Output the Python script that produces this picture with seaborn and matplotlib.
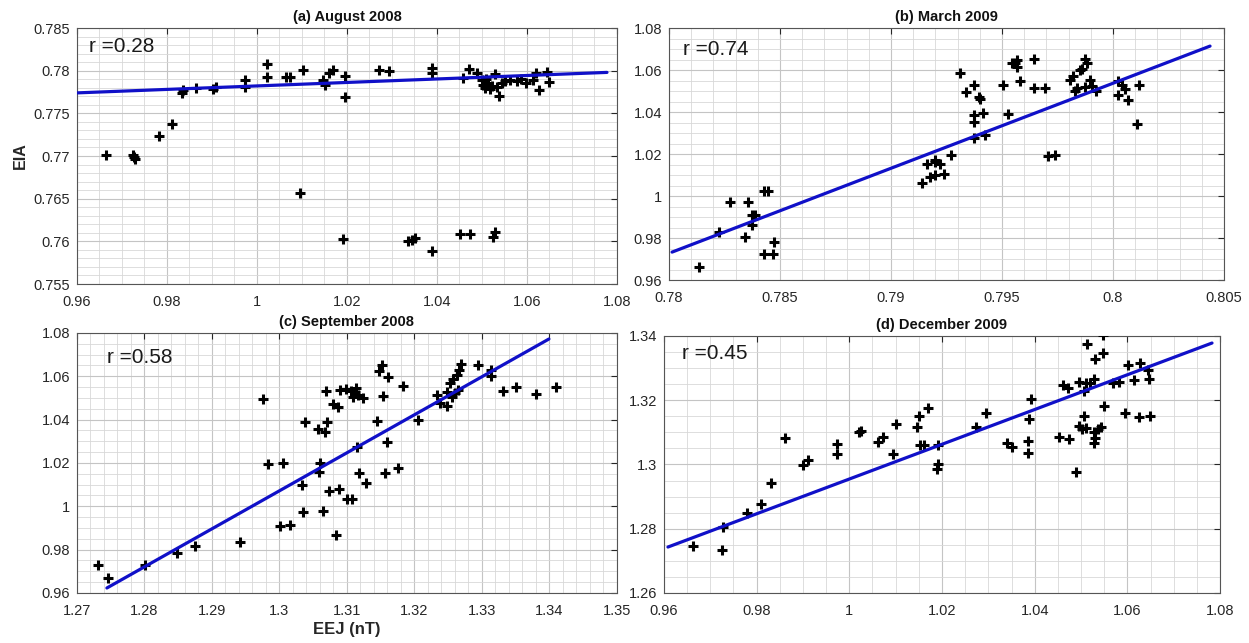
import numpy as np
import pandas as pd
import matplotlib
matplotlib.use("Agg")
import matplotlib.pyplot as plt
import seaborn as sns
from matplotlib.ticker import MultipleLocator, FuncFormatter

# Datos (EEJ en x, EIA en y)

# (a) August 2008
aug08_x = [0.9664, 0.9724, 0.9729, 0.9726, 0.9783, 0.9811, 0.9833, 0.9836, 0.9864, 0.9902,
           0.9910, 0.9973, 0.9973, 1.0022, 1.0022, 1.0064, 1.0073, 1.0102, 1.0096, 1.0147,
           1.0151, 1.0160, 1.0169, 1.0196, 1.0196, 1.0191, 1.0271, 1.0293, 1.0336, 1.0344,
           1.0351, 1.0389, 1.0389, 1.0389, 1.0451, 1.0473, 1.0524, 1.0529, 1.0458, 1.0471,
           1.0489, 1.0500, 1.0502, 1.0507, 1.0514, 1.0522, 1.0529, 1.0533, 1.0538, 1.0544,
           1.0551, 1.0562, 1.0577, 1.0588, 1.0599, 1.0614, 1.0620, 1.0627, 1.0644, 1.0649,
           1.0510, 1.0518]
aug08_y = [0.7701, 0.7701, 0.7697, 0.7699, 0.7723, 0.7737, 0.7774, 0.7777, 0.7780, 0.7779,
           0.7781, 0.7789, 0.7781, 0.7808, 0.7793, 0.7793, 0.7793, 0.7801, 0.7657, 0.7789,
           0.7783, 0.7797, 0.7801, 0.7794, 0.7769, 0.7603, 0.7801, 0.7800, 0.7600, 0.7602,
           0.7604, 0.7803, 0.7797, 0.7589, 0.7609, 0.7609, 0.7605, 0.7611, 0.7791, 0.7802,
           0.7797, 0.7789, 0.7783, 0.7780, 0.7785, 0.7782, 0.7796, 0.7781, 0.7770, 0.7785,
           0.7788, 0.7789, 0.7788, 0.7790, 0.7786, 0.7789, 0.7797, 0.7777, 0.7798, 0.7787,
           0.7790, 0.7779]
aug08_fit_x = [0.9600, 1.0778]
aug08_fit_y = [0.7774, 0.7798]

# (b) March 2009
mar09_x = [0.78135, 0.78225, 0.78275, 0.78356, 0.78342, 0.78374, 0.78389, 0.78374, 0.78428, 0.78446,
           0.78428, 0.78468, 0.78473, 0.79140, 0.79176, 0.79198, 0.79162, 0.79198, 0.79198, 0.79220,
           0.79239, 0.79270, 0.79311, 0.79338, 0.79374, 0.79396, 0.79399, 0.79374, 0.79414, 0.79374,
           0.79374, 0.79423, 0.79505, 0.79527, 0.79545, 0.79568, 0.79568, 0.79560, 0.79581, 0.79644,
           0.79644, 0.79694, 0.79707, 0.79739, 0.79806, 0.79820, 0.79851, 0.79860, 0.79874, 0.79883,
           0.79829, 0.79838, 0.79874, 0.79896, 0.79905, 0.79923, 0.80022, 0.80040, 0.80054, 0.80022,
           0.80068, 0.80117, 0.80108]
mar09_y = [0.9662, 0.9829, 0.9971, 0.9971, 0.9805, 0.9910, 0.9910, 0.9862, 1.0024, 1.0024,
           0.9724, 0.9724, 0.9781, 1.0062, 1.0090, 1.0100, 1.0152, 1.0162, 1.0171, 1.0152,
           1.0105, 1.0195, 1.0586, 1.0495, 1.0529, 1.0470, 1.0460, 1.0386, 1.0395, 1.0352,
           1.0276, 1.0290, 1.0529, 1.0390, 1.0633, 1.0648, 1.0614, 1.0633, 1.0548, 1.0652,
           1.0514, 1.0514, 1.0190, 1.0195, 1.0552, 1.0571, 1.0600, 1.0605, 1.0652, 1.0633,
           1.0500, 1.0514, 1.0519, 1.0552, 1.0524, 1.0500, 1.0548, 1.0529, 1.0510, 1.0481,
           1.0457, 1.0529, 1.0343]
mar09_fit_x = [0.78014, 0.80437]
mar09_fit_y = [0.9733, 1.0714]

# (c) September 2008
sep08_x = [1.27311, 1.27459, 1.28007, 1.28481, 1.28748, 1.29415, 1.29756, 1.29830, 1.30052, 1.30007,
           1.30156, 1.30333, 1.30348, 1.30378, 1.30570, 1.30674, 1.30700, 1.30600, 1.30585, 1.30644,
           1.30689, 1.30733, 1.30881, 1.30793, 1.30867, 1.30837, 1.30896, 1.30985, 1.31060, 1.31119,
           1.31090, 1.31163, 1.31237, 1.31140, 1.31000, 1.31074, 1.31148, 1.31178, 1.31281, 1.31444,
           1.31474, 1.31519, 1.31533, 1.31563, 1.31593, 1.31607, 1.31756, 1.31830, 1.32052, 1.32333,
           1.32378, 1.32481, 1.32481, 1.32526, 1.32570, 1.32630, 1.32660, 1.32689, 1.32550, 1.32600,
           1.32640, 1.32941, 1.33133, 1.33133, 1.33311, 1.33500, 1.33800, 1.34096]
sep08_y = [0.9729, 0.9669, 0.9729, 0.9785, 0.9817, 0.9835, 1.0495, 1.0195, 1.0200, 0.9909,
           0.9914, 1.0098, 0.9974, 1.0389, 1.0357, 1.0343, 1.0389, 1.0200, 1.0158, 0.9978,
           1.0532, 1.0071, 1.0080, 1.0472, 1.0458, 0.9868, 1.0537, 1.0541, 1.0532, 1.0528,
           1.0505, 1.0514, 1.0500, 1.0546, 1.0034, 1.0034, 1.0274, 1.0154, 1.0108, 1.0394,
           1.0625, 1.0652, 1.0509, 1.0154, 1.0297, 1.0597, 1.0177, 1.0555, 1.0398, 1.0514,
           1.0477, 1.0463, 1.0528, 1.0569, 1.0588, 1.0606, 1.0629, 1.0657, 1.0505, 1.0523,
           1.0537, 1.0652, 1.0629, 1.0601, 1.0532, 1.0551, 1.0518, 1.0551]
sep08_fit_x = [1.27444, 1.33993]
sep08_fit_y = [0.9623, 1.0772]

# (d) December 2009
dec09_x = [0.96627, 0.97254, 0.97276, 0.97795, 0.98097, 0.98314, 0.98616, 0.99005, 0.99114, 0.99741,
           0.99741, 1.00216, 1.00250, 1.00627, 1.00735, 1.00951, 1.01016, 1.01470, 1.01514, 1.01708,
           1.01535, 1.01620, 1.01924, 1.01900, 1.01924, 1.02724, 1.02940, 1.03395, 1.03503, 1.03849,
           1.03849, 1.03914, 1.03870, 1.04519, 1.04735, 1.04605, 1.04714, 1.04886, 1.04951, 1.05060,
           1.05100, 1.05189, 1.05276, 1.05124, 1.05297, 1.05470, 1.05470, 1.05060, 1.04950, 1.05020,
           1.05100, 1.05280, 1.05360, 1.05430, 1.05300, 1.05280, 1.05492, 1.05686, 1.05816, 1.05946,
           1.06011, 1.06140, 1.06249, 1.06270, 1.06443, 1.06465, 1.06486]
dec09_y = [1.2746, 1.2733, 1.2805, 1.2849, 1.2877, 1.2942, 1.3082, 1.2998, 1.3014, 1.3064,
           1.3032, 1.3101, 1.3103, 1.3070, 1.3085, 1.3032, 1.3126, 1.3117, 1.3151, 1.3176,
           1.3060, 1.3060, 1.3001, 1.2986, 1.3060, 1.3117, 1.3160, 1.3067, 1.3054, 1.3073,
           1.3036, 1.3204, 1.3141, 1.3085, 1.3079, 1.3247, 1.3238, 1.2976, 1.3257, 1.3229,
           1.3255, 1.3254, 1.3266, 1.3375, 1.3328, 1.3347, 1.3403, 1.3151, 1.3120, 1.3110,
           1.3112, 1.3100, 1.3110, 1.3117, 1.3083, 1.3067, 1.3182, 1.3254, 1.3257, 1.3160,
           1.3310, 1.3263, 1.3148, 1.3316, 1.3294, 1.3266, 1.3151]
dec09_fit_x = [0.96086, 1.07827]
dec09_fit_y = [1.2743, 1.3378]

titles = ["(a) August 2008", "(b) March 2009", "(c) September 2008", "(d) December 2009"]
r_labels = ["r =0.28", "r =0.74", "r =0.58", "r =0.45"]

# Estilo tipo MATLAB
sns.set_theme(style="white")
plt.rcParams["font.family"] = ["Liberation Sans", "DejaVu Sans"]

fig = plt.figure(figsize=(12.49, 6.43), dpi=100)

# posiciones de cada panel [left, bottom, width, height] y limites/ticks
paneles = [
    dict(pos=[0.0616, 0.5583, 0.4323, 0.3981], x=aug08_x, y=aug08_y, fx=aug08_fit_x, fy=aug08_fit_y,
         xlim=(0.96, 1.08), ylim=(0.755, 0.785), xmaj=0.02, xmin=0.005, ymaj=0.005, ymin=0.001,
         rpos=(0.022, 0.926)),
    dict(pos=[0.5356, 0.5645, 0.4444, 0.3919], x=mar09_x, y=mar09_y, fx=mar09_fit_x, fy=mar09_fit_y,
         xlim=(0.78, 0.805), ylim=(0.96, 1.08), xmaj=0.005, xmin=0.001, ymaj=0.02, ymin=0.005,
         rpos=(0.025, 0.913)),
    dict(pos=[0.0616, 0.0778, 0.4323, 0.4044], x=sep08_x, y=sep08_y, fx=sep08_fit_x, fy=sep08_fit_y,
         xlim=(1.27, 1.35), ylim=(0.96, 1.08), xmaj=0.01, xmin=0.002, ymaj=0.02, ymin=0.005,
         rpos=(0.056, 0.904)),
    dict(pos=[0.5316, 0.0778, 0.4452, 0.3997], x=dec09_x, y=dec09_y, fx=dec09_fit_x, fy=dec09_fit_y,
         xlim=(0.96, 1.08), ylim=(1.26, 1.34), xmaj=0.02, xmin=0.005, ymaj=0.02, ymin=0.005,
         rpos=(0.032, 0.930)),
]

fmt = FuncFormatter(lambda v, p: f"{round(v, 6):g}")

axes = []
for i, p in enumerate(paneles):
    ax = fig.add_axes(p["pos"])
    axes.append(ax)
    df = pd.DataFrame({"EEJ": p["x"], "EIA": p["y"]})
    sns.scatterplot(data=df, x="EEJ", y="EIA", marker="+", color="black",
                    s=55, linewidth=2.2, ax=ax, zorder=3)
    sns.lineplot(x=p["fx"], y=p["fy"], color="#1010c8", linewidth=2.3,
                 estimator=None, ax=ax, zorder=4)

    ax.set_xlim(p["xlim"])
    ax.set_ylim(p["ylim"])
    ax.xaxis.set_major_locator(MultipleLocator(p["xmaj"]))
    ax.xaxis.set_minor_locator(MultipleLocator(p["xmin"]))
    ax.yaxis.set_major_locator(MultipleLocator(p["ymaj"]))
    ax.yaxis.set_minor_locator(MultipleLocator(p["ymin"]))
    ax.xaxis.set_major_formatter(fmt)
    ax.yaxis.set_major_formatter(fmt)

    ax.grid(which="major", color="#c4c4c4", linewidth=0.8)
    ax.grid(which="minor", color="#d8d8d8", linewidth=0.6)
    ax.set_axisbelow(True)

    ax.tick_params(which="major", direction="in", length=4, width=0.8, top=True, right=True,
                   labelsize=10.5, labelcolor="#262626", color="#262626")
    ax.tick_params(axis="x", which="major", pad=8)
    ax.tick_params(axis="y", which="major", pad=5)
    ax.tick_params(which="minor", length=0)
    for s in ax.spines.values():
        s.set_color("#555555")
        s.set_linewidth(0.8)

    ax.set_title(titles[i], fontsize=10.5, fontweight="bold", pad=5, color="#111111")
    ax.text(p["rpos"][0], p["rpos"][1], r_labels[i], transform=ax.transAxes,
            fontsize=15, va="center", ha="left", color="#1a1a1a")
    ax.set_xlabel("")
    ax.set_ylabel("")

axes[0].set_ylabel("EIA", fontsize=11.5, fontweight="bold", labelpad=4)
axes[2].set_xlabel("EEJ (nT)", fontsize=12, fontweight="bold", labelpad=3)

fig.savefig("out.png", dpi=100)
